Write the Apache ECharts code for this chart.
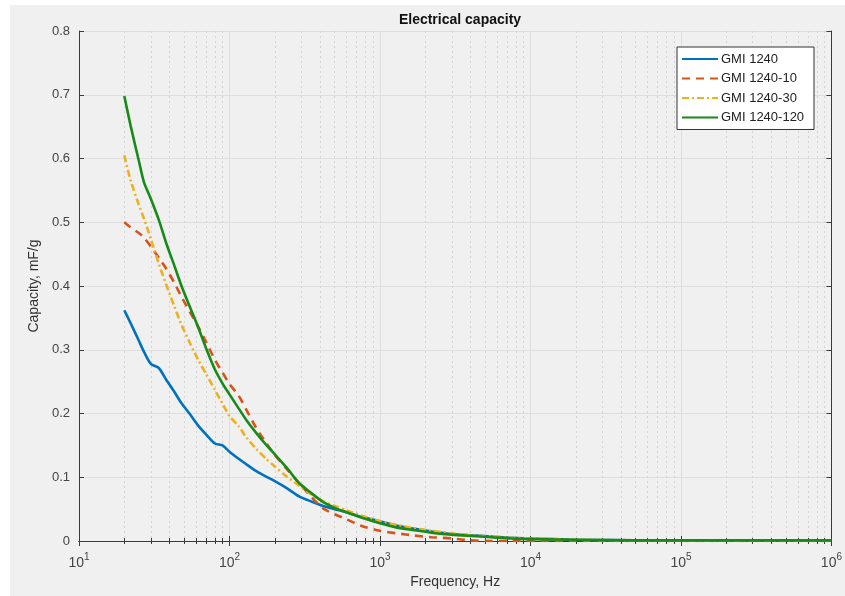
<!DOCTYPE html>
<html>
<head>
<meta charset="utf-8">
<script src="https://cdn.jsdelivr.net/npm/echarts@6/dist/echarts.min.js"></script>
<style>
html,body{margin:0;padding:0;background:#ffffff;}
#bg{position:absolute;left:10px;top:5px;width:835px;height:591px;background:#f0f0f0;}
#chart{position:absolute;left:0;top:0;width:845px;height:596px;}
</style>
</head>
<body>
<div id="bg"></div>
<div id="chart"></div>
<script>
// Frequency (Hz) shared by all series
const freq = [20, 22, 25, 27, 30, 34, 38, 43, 48, 55, 62, 70, 80, 90, 100, 115, 130, 150, 175, 200, 240, 290, 350, 420, 500, 600, 750, 1000, 1300, 1700, 2200, 3000, 4000, 5500, 7500, 10000, 20000, 50000, 100000, 200000, 500000, 1000000];

const seriesNames = ['GMI 1240', 'GMI 1240-10', 'GMI 1240-30', 'GMI 1240-120'];

const gmi1240 = [0.362, 0.342, 0.314, 0.297, 0.278, 0.271, 0.253, 0.234, 0.216, 0.198, 0.181, 0.167, 0.153, 0.150, 0.140, 0.129, 0.120, 0.110, 0.101, 0.094, 0.083, 0.070, 0.062, 0.055, 0.050, 0.045, 0.038, 0.031, 0.024, 0.019, 0.015, 0.011, 0.009, 0.007, 0.005, 0.004, 0.002, 0.001, 0.001, 0.001, 0.001, 0.001];

const gmi1240_10 = [0.500, 0.492, 0.483, 0.476, 0.462, 0.444, 0.427, 0.405, 0.383, 0.358, 0.336, 0.312, 0.284, 0.264, 0.246, 0.228, 0.205, 0.178, 0.154, 0.135, 0.113, 0.091, 0.069, 0.051, 0.042, 0.034, 0.024, 0.016, 0.012, 0.0085, 0.006, 0.004, 0.001, 0, 0, 0, 0, 0, 0, 0, 0, 0];

const gmi1240_30 = [0.605, 0.566, 0.527, 0.506, 0.474, 0.434, 0.402, 0.368, 0.339, 0.309, 0.284, 0.262, 0.237, 0.215, 0.196, 0.180, 0.162, 0.145, 0.129, 0.117, 0.101, 0.087, 0.073, 0.062, 0.055, 0.048, 0.040, 0.031, 0.025, 0.020, 0.016, 0.012, 0.009, 0.007, 0.005, 0.004, 0.002, 0.001, 0.001, 0.001, 0.001, 0.001];

const gmi1240_120 = [0.698, 0.652, 0.596, 0.563, 0.537, 0.503, 0.467, 0.432, 0.400, 0.365, 0.335, 0.302, 0.269, 0.247, 0.230, 0.208, 0.189, 0.170, 0.151, 0.136, 0.115, 0.091, 0.075, 0.061, 0.052, 0.045, 0.037, 0.028, 0.021, 0.017, 0.013, 0.010, 0.008, 0.006, 0.004, 0.003, 0.002, 0.001, 0.001, 0.001, 0.001, 0.001];

const yTicks = [0, 0.1, 0.2, 0.3, 0.4, 0.5, 0.6, 0.7, 0.8];

const colors = ['#0072BD', '#D95319', '#EDB120', '#178a17'];
const dashes = ['solid', [8, 6], [7, 3, 2, 3], 'solid'];
const values = [gmi1240, gmi1240_10, gmi1240_30, gmi1240_120];

const chart = echarts.init(document.getElementById('chart'), null, {renderer: 'canvas'});

const axisCol = '#3a3a3a';
const labelCol = '#444444';
const gridCol = '#dedede';
const FONT = 'Liberation Sans, Arial, sans-serif';

const series = seriesNames.map((name, i) => ({
  name: name,
  type: 'line',
  xAxisIndex: 0,
  yAxisIndex: 0,
  showSymbol: false,
  symbol: 'none',
  smooth: 0.25,
  clip: true,
  data: freq.map((f, k) => [f, values[i][k]]),
  lineStyle: {color: colors[i], width: 2.6, type: dashes[i]},
  itemStyle: {color: colors[i]},
  emphasis: {disabled: true}
}));

const option = {
  backgroundColor: 'transparent',
  animation: false,
  textStyle: {fontFamily: FONT},
  title: {
    text: 'Electrical capacity',
    left: 455,
    top: 8,
    textAlign: 'center',
    textStyle: {fontFamily: FONT, fontSize: 14, fontWeight: 'bold', color: '#111111'}
  },
  legend: {
    orient: 'vertical',
    left: 677,
    top: 47,
    padding: [5, 4, 5, 4],
    itemWidth: 36,
    itemHeight: 14,
    itemGap: 5.5,
    backgroundColor: '#ffffff',
    borderColor: '#333333',
    borderWidth: 1,
    borderRadius: 0,
    itemStyle: {opacity: 0},
    textStyle: {fontFamily: FONT, fontSize: 13, color: '#222222', lineHeight: 14, width: 89, padding: [0, 0, 0, -2]},
    data: seriesNames
  },
  grid: {left: 79, right: 13, top: 31, bottom: 55, containLabel: false},
  xAxis: [{
    type: 'log',
    logBase: 10,
    min: 10,
    max: 1000000,
    name: 'Frequency, Hz',
    nameLocation: 'middle',
    nameGap: 34,
    nameTextStyle: {fontFamily: FONT, fontSize: 14, color: '#333333'},
    axisLine: {show: true, lineStyle: {color: axisCol, width: 1}},
    axisTick: {show: true, inside: true, length: 5, lineStyle: {color: axisCol}},
    minorTick: {show: true, splitNumber: 9, length: 3, lineStyle: {color: axisCol}},
    splitLine: {show: true, lineStyle: {color: gridCol, width: 1}},
    minorSplitLine: {show: true, lineStyle: {color: '#d4d4d4', width: 1, type: [2, 3]}},
    axisLabel: {
      margin: 11,
      formatter: function (v) {
        return '{b|10}{s|' + Math.round(Math.log10(v)) + '}';
      },
      rich: {
        b: {fontFamily: FONT, fontSize: 14, color: labelCol, verticalAlign: 'bottom'},
        s: {fontFamily: FONT, fontSize: 10, color: labelCol, verticalAlign: 'bottom', padding: [0, 0, 8, 0]}
      }
    }
  }, {
    type: 'log',
    logBase: 10,
    min: 10,
    max: 1000000,
    position: 'top',
    axisLine: {show: true, lineStyle: {color: axisCol, width: 1}},
    axisTick: {show: true, inside: true, length: 5, lineStyle: {color: axisCol}},
    minorTick: {show: true, splitNumber: 9, length: 3, lineStyle: {color: axisCol}},
    splitLine: {show: false},
    axisLabel: {show: false}
  }],
  yAxis: [{
    type: 'value',
    min: 0,
    max: 0.8,
    interval: 0.1,
    name: 'Capacity, mF/g',
    nameLocation: 'middle',
    nameGap: 35,
    nameRotate: 90,
    nameTextStyle: {fontFamily: FONT, fontSize: 14, color: '#333333'},
    axisLine: {show: true, lineStyle: {color: axisCol, width: 1}},
    axisTick: {show: true, inside: true, length: 5, lineStyle: {color: axisCol}},
    splitLine: {show: true, lineStyle: {color: gridCol, width: 1}},
    axisLabel: {
      margin: 9,
      fontFamily: FONT,
      fontSize: 13,
      color: labelCol,
      formatter: function (v) {
        const t = yTicks.find(x => Math.abs(x - v) < 1e-9);
        return t === 0 ? '0' : String(+v.toFixed(1));
      }
    }
  }, {
    type: 'value',
    min: 0,
    max: 0.8,
    interval: 0.1,
    position: 'right',
    axisLine: {show: true, lineStyle: {color: axisCol, width: 1}},
    axisTick: {show: true, inside: true, length: 5, lineStyle: {color: axisCol}},
    splitLine: {show: false},
    axisLabel: {show: false}
  }],
  series: series
};

chart.setOption(option);
</script>
</body>
</html>
